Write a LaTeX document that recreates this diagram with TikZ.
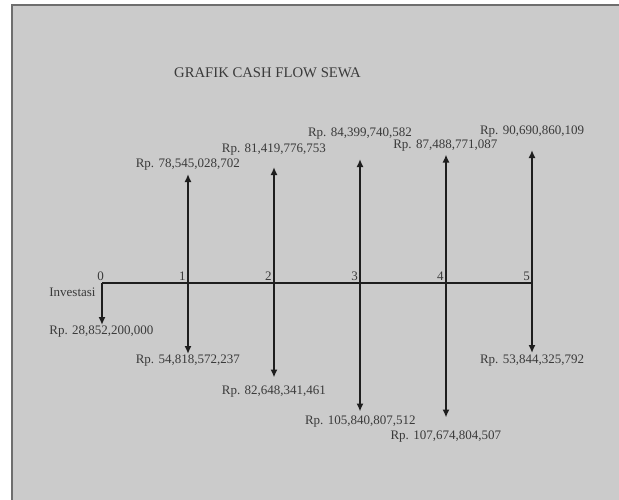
\documentclass[tikz,border=0pt]{standalone}
\usepackage{fontspec}
\setmainfont{Liberation Serif}
\usetikzlibrary{arrows.meta}
\definecolor{bg}{HTML}{CBCBCB}
\definecolor{frame}{HTML}{6E6E6E}
\definecolor{txt}{HTML}{3A3A3A}
\definecolor{ln}{HTML}{1E1E1E}
\begin{document}
\begin{tikzpicture}[x=1pt,y=-1pt,
  lbl/.style={text=txt,font=\fontsize{13}{13}\selectfont,inner sep=0pt,anchor=center},
  flow/.style={draw=ln,line width=2pt,-{Latex[length=8pt,width=7pt]}},
  axisline/.style={draw=ln,line width=2pt}]
\useasboundingbox (0,0) rectangle (619,499);
\fill[white] (0,0) rectangle (619,499);
\fill[bg,draw=frame,line width=2pt] (12,5) rectangle (625,505);
\node[lbl,font=\fontsize{14.7}{14.7}\selectfont] (title) at (267.5,73) {GRAFIK CASH FLOW SEWA};
% axis points
\coordinate (t0) at (102,283);
\coordinate (t1) at (188,283);
\coordinate (t2) at (274,283);
\coordinate (t3) at (360,283);
\coordinate (t4) at (446,283);
\coordinate (t5) at (532,283);
% up ends
\coordinate (u1) at (188,174);
\coordinate (u2) at (274,167);
\coordinate (u3) at (360,159);
\coordinate (u4) at (446,154.5);
\coordinate (u5) at (532,150);
% down ends
\coordinate (d0) at (102,325);
\coordinate (d1) at (188,354);
\coordinate (d2) at (274,377.5);
\coordinate (d3) at (360,411.5);
\coordinate (d4) at (446,417.5);
\coordinate (d5) at (532,353);
\draw[axisline] (t0) -- (t5);
\foreach \i in {1,...,5} {\draw[flow] (t\i) -- (u\i);}
\foreach \i in {0,...,5} {\draw[flow] (t\i) -- (d\i);}
% period numbers
\node[lbl] (n0) at (100.5,276) {0};
\node[lbl] (n1) at (182.3,276) {1};
\node[lbl] (n2) at (268.3,276) {2};
\node[lbl] (n3) at (354.5,276) {3};
\node[lbl] (n4) at (440.3,276) {4};
\node[lbl] (n5) at (526.5,276) {5};
\node[lbl] (inv) at (72.5,292.7) {Investasi};
% up labels
\node[lbl] (a1) at (187.8,165) {Rp. 78,545,028,702};
\node[lbl] (a2) at (274,149.3) {Rp. 81,419,776,753};
\node[lbl] (a3) at (360,133.3) {Rp. 84,399,740,582};
\node[lbl] (a4) at (445.3,145.7) {Rp. 87,488,771,087};
\node[lbl] (a5) at (532,132) {Rp. 90,690,860,109};
% down labels
\node[lbl] (b0) at (101.5,332) {Rp. 28,852,200,000};
\node[lbl] (b1) at (187.8,361) {Rp. 54,818,572,237};
\node[lbl] (b2) at (274,391.7) {Rp. 82,648,341,461};
\node[lbl] (b3) at (360.3,421.5) {Rp. 105,840,807,512};
\node[lbl] (b4) at (445.8,436.7) {Rp. 107,674,804,507};
\node[lbl] (b5) at (532,361) {Rp. 53,844,325,792};
\end{tikzpicture}
\end{document}
